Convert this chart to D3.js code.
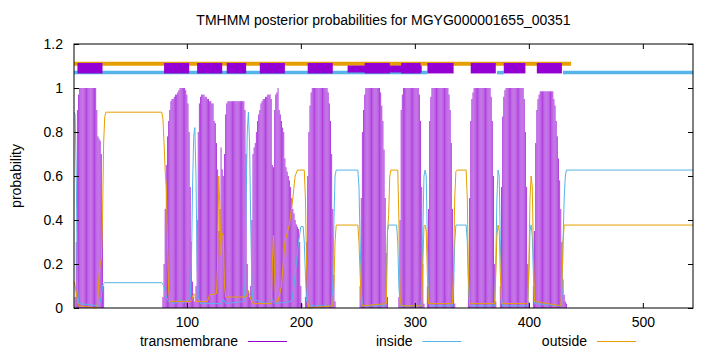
<!DOCTYPE html>
<html>
<head>
<meta charset="utf-8">
<script src="https://cdn.jsdelivr.net/npm/d3@7"></script>
<style>
  body { margin: 0; background: #fff; }
  text { font-family: "Liberation Sans", Arial, sans-serif; fill: #000; }
</style>
</head>
<body>
<div id="chart"></div>
<script>
var title = "TMHMM posterior probabilities for MGYG000001655_00351",
    seqLength = 544,
    xTicks = [100, 200, 300, 400, 500],
    yTicks = [0, 0.2, 0.4, 0.6, 0.8, 1, 1.2];

// transmembrane posterior, per residue: [first residue, values...]
var tmRuns = [
  [1, [0, 0.05, 0.3, 0.9, 0.97, 1, 1, 1, 1, 1, 1, 1, 1, 1, 1, 1, 1, 1, 1, 1,
       0.9, 0.78, 0.77, 0.76, 0.7, 0.4, 0.1]],
  [79, [0.05, 0.2, 0.45, 0.65, 0.78, 0.85, 0.9, 0.94, 0.95, 0.95, 0.96, 0.97, 0.97, 0.98, 0.99,
        1, 1, 1, 1, 1, 0.99, 0.97, 0.93, 0.8, 0.55, 0.3, 0.12, 0.05, 0.03]],
  [108, [0.1, 0.4, 0.8, 0.93, 0.96, 0.97, 0.97, 0.97, 0.96, 0.96, 0.95, 0.95, 0.94, 0.94,
         0.93, 0.93, 0.85, 0.84, 0.75, 0.63, 0.35, 0.45, 0.73, 0.63, 0.6, 0.7, 0.88, 0.93,
         0.94, 0.94, 0.94, 0.94, 0.94, 0.94, 0.94, 0.94, 0.94, 0.94, 0.94, 0.94, 0.94, 0.94, 0.94,
         0.9, 0.7, 0.2, 0.08]],
  [155, [0.05, 0.1, 0.4, 0.7, 0.73, 0.75, 0.8, 0.85, 0.88, 0.9, 0.93, 0.94, 0.95, 0.95, 0.96,
         0.96, 0.97, 0.97, 0.97, 0.95, 0.65, 0.64, 0.9, 0.97, 0.98, 1, 0.9, 0.88, 0.85, 0.82,
         0.8, 0.68, 0.64, 0.62, 0.6, 0.58, 0.55, 0.5, 0.45, 0.43, 0.4, 0.38, 0.37, 0.36, 0.3,
         0.1, 0.02]],
  [204, [0.05, 0.3, 0.6, 0.8, 0.92, 0.98, 1, 1, 1, 1, 1, 1, 1, 1, 1, 1, 1, 1, 1, 1,
         0.98, 0.93, 0.85, 0.7, 0.45, 0.15, 0.03]],
  [252, [0.1, 0.5, 0.8, 0.9, 0.97, 1, 1, 1, 1, 1, 1, 1, 1, 1, 1, 1, 1, 1,
         0.98, 0.92, 0.85, 0.72, 0.5, 0.25, 0.05]],
  [286, [0.05, 0.4, 0.9, 0.97, 1, 1, 1, 1, 1, 1, 1, 1, 1, 1, 1, 1, 1, 1,
         0.97, 0.85, 0.55, 0.2, 0.02]],
  [311, [0.1, 0.45, 0.85, 0.96, 1, 1, 1, 1, 1, 1, 1, 1, 1, 1, 1, 1, 1, 1, 1,
         0.97, 0.9, 0.75, 0.45, 0.15, 0.02]],
  [347, [0.1, 0.5, 0.85, 0.95, 0.98, 1, 1, 1, 1, 1, 1, 1, 1, 1, 1, 1, 1, 1, 1, 1,
         0.96, 0.85, 0.6, 0.2, 0.03]],
  [375, [0.1, 0.55, 0.87, 0.96, 0.99, 1, 1, 1, 1, 1, 1, 1, 1, 1, 1, 1, 1, 1, 1, 1, 1,
         0.95, 0.8, 0.55, 0.2, 0.03]],
  [404, [0.1, 0.35, 0.75, 0.9, 0.95, 0.97, 0.985, 0.985, 0.985, 0.985, 0.985, 0.985, 0.985,
         0.985, 0.985, 0.985, 0.985, 0.985, 0.95, 0.92, 0.85, 0.78, 0.68, 0.58, 0.45, 0.3,
         0.13, 0.06, 0.03, 0.02]]
];

// inside / outside posterior, [residue, probability]
var insideProb = [[1, 0.89], [2, 0.88], [3, 0.6], [4, 0.1], [5, 0.02], [23, 0.01], [25, 0.05],
  [26, 0.1], [27, 0.11], [28, 0.115], [78, 0.115], [80, 0.1], [82, 0.05], [84, 0.03], [90, 0.02],
  [94, 0.04], [96, 0.02], [103, 0.05], [104, 0.2], [105, 0.55], [106, 0.78], [107, 0.82],
  [108, 0.6], [109, 0.2], [110, 0.05], [112, 0.02], [130, 0.02], [132, 0.04], [134, 0.02],
  [150, 0.03], [151, 0.1], [152, 0.5], [153, 0.8], [154, 0.89], [155, 0.75], [156, 0.4],
  [157, 0.1], [158, 0.04], [170, 0.02], [175, 0.04], [177, 0.02], [192, 0.03], [194, 0.1],
  [196, 0.2], [198, 0.3], [200, 0.37], [202, 0.37], [203, 0.3], [204, 0.15], [205, 0.03],
  [207, 0.01], [227, 0.01], [228, 0.1], [229, 0.4], [230, 0.6], [231, 0.627], [250, 0.627],
  [251, 0.55], [252, 0.3], [253, 0.08], [254, 0.01], [274, 0.01], [275, 0.1], [276, 0.35],
  [277, 0.377], [284, 0.377], [285, 0.3], [286, 0.1], [287, 0.01], [305, 0.01], [306, 0.05],
  [307, 0.35], [308, 0.6], [309, 0.627], [310, 0.6], [311, 0.3], [312, 0.05], [313, 0.01],
  [333, 0.01], [334, 0.1], [335, 0.3], [336, 0.377], [345, 0.377], [346, 0.3], [347, 0.1],
  [348, 0.01], [370, 0.01], [371, 0.2], [372, 0.5], [373, 0.627], [374, 0.6], [375, 0.3],
  [376, 0.05], [377, 0.01], [399, 0.01], [400, 0.15], [401, 0.35], [402, 0.377], [403, 0.33],
  [404, 0.15], [405, 0.02], [428, 0.01], [429, 0.05], [430, 0.3], [431, 0.5], [432, 0.6],
  [433, 0.627], [544, 0.627]];

var outsideProb = [[1, 0.12], [2, 0.1], [3, 0.07], [4, 0.03], [5, 0.01], [21, 0], [22, 0.05],
  [23, 0.15], [24, 0.2], [25, 0.22], [26, 0.4], [27, 0.75], [28, 0.87], [29, 0.89], [78, 0.89],
  [79, 0.86], [80, 0.75], [81, 0.62], [82, 0.55], [83, 0.3], [84, 0.08], [85, 0.03], [104, 0.03],
  [106, 0.065], [107, 0.06], [108, 0.03], [118, 0.03], [120, 0.06], [126, 0.065], [127, 0.2],
  [128, 0.6], [129, 0.45], [130, 0.24], [131, 0.34], [132, 0.33], [133, 0.1], [134, 0.05],
  [152, 0.05], [154, 0.08], [156, 0.04], [158, 0.02], [174, 0.02], [175, 0.2], [176, 0.33],
  [177, 0.15], [178, 0.03], [180, 0.03], [183, 0.1], [186, 0.3], [188, 0.34], [190, 0.38],
  [193, 0.5], [195, 0.6], [197, 0.627], [203, 0.627], [204, 0.5], [205, 0.2], [206, 0.03],
  [207, 0], [228, 0.01], [229, 0.1], [230, 0.3], [231, 0.377], [250, 0.377], [251, 0.3],
  [252, 0.15], [253, 0.03], [254, 0.01], [275, 0.02], [276, 0.35], [277, 0.42], [278, 0.6],
  [279, 0.627], [285, 0.627], [286, 0.4], [287, 0.05], [288, 0.01], [306, 0.01], [307, 0.2],
  [308, 0.37], [309, 0.377], [310, 0.35], [311, 0.15], [312, 0.02], [333, 0.02], [334, 0.2],
  [335, 0.5], [336, 0.62], [337, 0.627], [345, 0.627], [346, 0.5], [347, 0.15], [348, 0.02],
  [370, 0.02], [371, 0.15], [372, 0.33], [373, 0.377], [374, 0.35], [375, 0.15], [376, 0.02],
  [399, 0.02], [400, 0.2], [401, 0.5], [402, 0.6], [403, 0.55], [404, 0.25], [405, 0.03],
  [428, 0.01], [429, 0.1], [430, 0.3], [431, 0.377], [544, 0.377]];

// predicted topology drawn above the plot: [from, to]
var tmSegments = [[4, 26], [80, 102], [109, 131], [135, 152], [164, 186], [206, 228],
                  [256, 278], [288, 305], [311, 334], [349, 371], [378, 397], [407, 429]],
    tmThinSegments = [[241, 306]],
    insideSegments = [[1, 311], [372, 378], [430, 544]],
    outsideSegments = [[1, 437]];

var legendItems = [{"name": "transmembrane", "color": "#9400d3"},
                   {"name": "inside", "color": "#56b4e9"},
                   {"name": "outside", "color": "#e69f00"}];

// **************************
var w = 720, h = 352;
var margin = {top: 44, right: 27, bottom: 44, left: 74},
    width = w - margin.left - margin.right,
    height = h - margin.top - margin.bottom;

var svg = d3.select("#chart").append("svg")
    .attr("width", w)
    .attr("height", h);

var x = d3.scaleLinear().domain([1, seqLength]).range([0, width]),
    y = d3.scaleLinear().domain([0, 1.2]).range([height, 0]);

var g = svg.append("g")
    .attr("transform", "translate(" + margin.left + "," + margin.top + ")");

// transmembrane impulses
var tmPoints = [];
tmRuns.forEach(function(r) {
  r[1].forEach(function(v, i) { if (v > 0) tmPoints.push([r[0] + i, v]); });
});
g.append("g").selectAll("line")
    .data(tmPoints)
  .enter().append("line")
    .attr("x1", function(d) { return x(d[0]); })
    .attr("x2", function(d) { return x(d[0]); })
    .attr("y1", y(0))
    .attr("y2", function(d) { return y(d[1]); })
    .attr("stroke", "#9400d3")
    .attr("stroke-opacity", 0.75)
    .attr("stroke-width", 1);

var line = d3.line()
    .x(function(d) { return x(d[0]); })
    .y(function(d) { return y(d[1]); });

g.append("path").datum(insideProb)
    .attr("fill", "none").attr("stroke", "#56b4e9").attr("stroke-width", 1)
    .attr("d", line);
g.append("path").datum(outsideProb)
    .attr("fill", "none").attr("stroke", "#e69f00").attr("stroke-width", 1)
    .attr("d", line);

// topology lanes
function lane(data, yv, color, sw) {
  g.append("g").selectAll("line")
      .data(data)
    .enter().append("line")
      .attr("x1", function(d) { return x(d[0]); })
      .attr("x2", function(d) { return x(d[1]); })
      .attr("y1", y(yv)).attr("y2", y(yv))
      .attr("stroke", color)
      .attr("stroke-width", sw);
}
lane(outsideSegments, 1.11, "#e69f00", 4);
lane(insideSegments, 1.07, "#56b4e9", 3.5);
lane(tmThinSegments, 1.086, "#9400d3", 7);
lane(tmSegments, 1.09, "#9400d3", 10.5);

// axes
g.append("g")
    .attr("transform", "translate(0," + height + ")")
    .call(d3.axisBottom(x).tickValues(xTicks).tickSizeInner(-5).tickSizeOuter(0).tickPadding(9))
    .call(function(s) { s.select(".domain").remove(); })
    .selectAll("text").style("font-size", "14px").style("font-family", null);
g.append("g")
    .call(d3.axisTop(x).tickValues(xTicks).tickSizeInner(-5).tickSizeOuter(0).tickFormat(""))
    .call(function(s) { s.select(".domain").remove(); });
g.append("g")
    .call(d3.axisLeft(y).tickValues(yTicks).tickSizeInner(-5).tickSizeOuter(0).tickPadding(11)
      .tickFormat(d3.format("~g")))
    .call(function(s) { s.select(".domain").remove(); })
    .selectAll("text").style("font-size", "14px").style("font-family", null);
g.append("g")
    .attr("transform", "translate(" + width + ",0)")
    .call(d3.axisRight(y).tickValues(yTicks).tickSizeInner(-5).tickSizeOuter(0).tickFormat(""))
    .call(function(s) { s.select(".domain").remove(); });
g.selectAll(".tick line").attr("stroke", "#000");

g.append("rect")
    .attr("width", width).attr("height", height)
    .attr("fill", "none").attr("stroke", "#000").attr("stroke-width", 1);

// title and y label
svg.append("text")
    .attr("x", margin.left + width / 2).attr("y", 25)
    .attr("text-anchor", "middle")
    .style("font-size", "14px")
    .text(title);
svg.append("text")
    .attr("transform", "translate(21," + (margin.top + height / 2) + ") rotate(-90)")
    .attr("text-anchor", "middle")
    .style("font-size", "14px")
    .text("probability");

// legend
var legend = svg.append("g").attr("class", "legend");
legendItems.forEach(function(d, i) {
  var lx = 248 + i * 174.5;
  legend.append("text")
      .attr("x", lx - 10).attr("y", 346)
      .attr("text-anchor", "end")
      .style("font-size", "14px")
      .text(d.name);
  legend.append("line")
      .attr("x1", lx).attr("x2", lx + 39)
      .attr("y1", 341.5).attr("y2", 341.5)
      .style("stroke", d.color).style("stroke-width", 1);
});
</script>
</body>
</html>
